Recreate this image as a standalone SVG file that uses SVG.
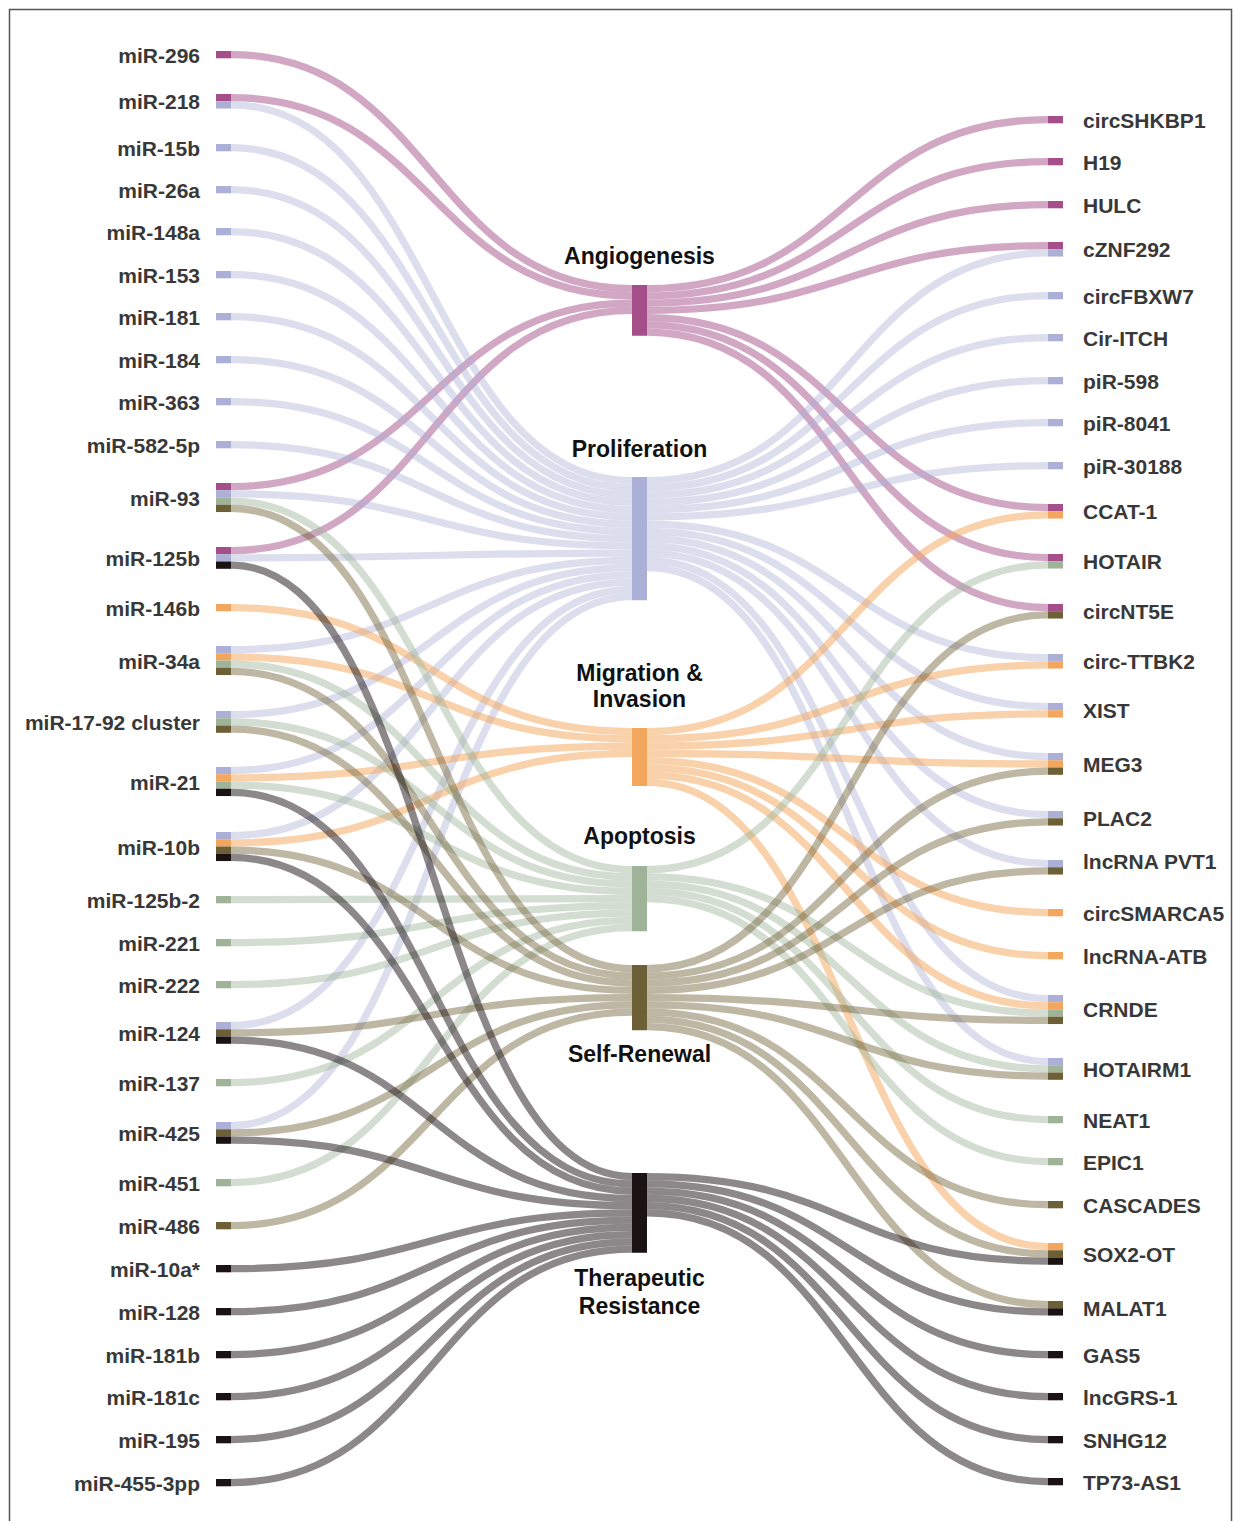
<svg xmlns="http://www.w3.org/2000/svg" width="1234" height="1521" viewBox="0 0 1234 1521">
<style>
.l{fill:none;stroke-width:7.25}
.lA{stroke:#a44f8a;stroke-opacity:.5}
.lP{stroke:#acb0d6;stroke-opacity:.42}
.lM{stroke:#f3a75e;stroke-opacity:.52}
.lAp{stroke:#9eb398;stroke-opacity:.45}
.lS{stroke:#6e6036;stroke-opacity:.45}
.lT{stroke:#1a1213;stroke-opacity:.5}
.fA{fill:#a44f8a}.fP{fill:#acb0d6}.fM{fill:#f3a75e}.fAp{fill:#9eb398}.fS{fill:#6e6036}.fT{fill:#1a1213}
.lb rect,.rb rect{width:15px;height:7.3px}
.lb rect{x:216px}.rb rect{x:1048px}
.lb text{font:bold 21px "Liberation Sans",Arial,sans-serif;fill:#383838;text-anchor:end}
.rb text{font:bold 21px "Liberation Sans",Arial,sans-serif;fill:#383838}
.cn text{font:bold 23px "Liberation Sans",Arial,sans-serif;fill:#111;text-anchor:middle}
</style>
<rect x="9.5" y="9.5" width="1222" height="1540" fill="#fff" stroke="#555" stroke-width="1.5"/>
<g id="links">
<path class="l lA" d="M231 54.6C431.5 54.6 431.5 288.6 632 288.6"/>
<path class="l lA" d="M231 97.6C431.5 97.6 431.5 295.9 632 295.9"/>
<path class="l lA" d="M231 486.6C431.5 486.6 431.5 303.1 632 303.1"/>
<path class="l lA" d="M231 550.6C431.5 550.6 431.5 310.4 632 310.4"/>
<path class="l lP" d="M231 104.9C431.5 104.9 431.5 480.6 632 480.6"/>
<path class="l lP" d="M231 147.6C431.5 147.6 431.5 487.9 632 487.9"/>
<path class="l lP" d="M231 189.6C431.5 189.6 431.5 495.1 632 495.1"/>
<path class="l lP" d="M231 231.6C431.5 231.6 431.5 502.4 632 502.4"/>
<path class="l lP" d="M231 274.6C431.5 274.6 431.5 509.6 632 509.6"/>
<path class="l lP" d="M231 316.6C431.5 316.6 431.5 516.9 632 516.9"/>
<path class="l lP" d="M231 359.6C431.5 359.6 431.5 524.1 632 524.1"/>
<path class="l lP" d="M231 401.6C431.5 401.6 431.5 531.4 632 531.4"/>
<path class="l lP" d="M231 444.6C431.5 444.6 431.5 538.6 632 538.6"/>
<path class="l lP" d="M231 493.9C431.5 493.9 431.5 545.9 632 545.9"/>
<path class="l lP" d="M231 557.9C431.5 557.9 431.5 553.1 632 553.1"/>
<path class="l lP" d="M231 649.6C431.5 649.6 431.5 560.4 632 560.4"/>
<path class="l lP" d="M231 714.6C431.5 714.6 431.5 567.6 632 567.6"/>
<path class="l lP" d="M231 770.6C431.5 770.6 431.5 574.9 632 574.9"/>
<path class="l lP" d="M231 835.6C431.5 835.6 431.5 582.1 632 582.1"/>
<path class="l lP" d="M231 1025.6C431.5 1025.6 431.5 589.4 632 589.4"/>
<path class="l lP" d="M231 1125.6C431.5 1125.6 431.5 596.6 632 596.6"/>
<path class="l lM" d="M231 607.6C431.5 607.6 431.5 731.6 632 731.6"/>
<path class="l lM" d="M231 656.9C431.5 656.9 431.5 738.9 632 738.9"/>
<path class="l lM" d="M231 777.9C431.5 777.9 431.5 746.1 632 746.1"/>
<path class="l lM" d="M231 842.9C431.5 842.9 431.5 753.4 632 753.4"/>
<path class="l lAp" d="M231 501.1C431.5 501.1 431.5 869.6 632 869.6"/>
<path class="l lAp" d="M231 664.1C431.5 664.1 431.5 876.9 632 876.9"/>
<path class="l lAp" d="M231 721.9C431.5 721.9 431.5 884.1 632 884.1"/>
<path class="l lAp" d="M231 785.1C431.5 785.1 431.5 891.4 632 891.4"/>
<path class="l lAp" d="M231 899.6C431.5 899.6 431.5 898.6 632 898.6"/>
<path class="l lAp" d="M231 942.6C431.5 942.6 431.5 905.9 632 905.9"/>
<path class="l lAp" d="M231 984.6C431.5 984.6 431.5 913.1 632 913.1"/>
<path class="l lAp" d="M231 1082.6C431.5 1082.6 431.5 920.4 632 920.4"/>
<path class="l lAp" d="M231 1182.6C431.5 1182.6 431.5 927.6 632 927.6"/>
<path class="l lS" d="M231 508.4C431.5 508.4 431.5 968.6 632 968.6"/>
<path class="l lS" d="M231 671.4C431.5 671.4 431.5 975.9 632 975.9"/>
<path class="l lS" d="M231 729.1C431.5 729.1 431.5 983.1 632 983.1"/>
<path class="l lS" d="M231 850.1C431.5 850.1 431.5 990.4 632 990.4"/>
<path class="l lS" d="M231 1032.9C431.5 1032.9 431.5 997.6 632 997.6"/>
<path class="l lS" d="M231 1132.9C431.5 1132.9 431.5 1004.9 632 1004.9"/>
<path class="l lS" d="M231 1225.6C431.5 1225.6 431.5 1012.1 632 1012.1"/>
<path class="l lT" d="M231 565.1C431.5 565.1 431.5 1176.6 632 1176.6"/>
<path class="l lT" d="M231 792.4C431.5 792.4 431.5 1183.9 632 1183.9"/>
<path class="l lT" d="M231 857.4C431.5 857.4 431.5 1191.1 632 1191.1"/>
<path class="l lT" d="M231 1040.1C431.5 1040.1 431.5 1198.4 632 1198.4"/>
<path class="l lT" d="M231 1140.1C431.5 1140.1 431.5 1205.6 632 1205.6"/>
<path class="l lT" d="M231 1268.6C431.5 1268.6 431.5 1212.9 632 1212.9"/>
<path class="l lT" d="M231 1311.6C431.5 1311.6 431.5 1220.1 632 1220.1"/>
<path class="l lT" d="M231 1354.6C431.5 1354.6 431.5 1227.4 632 1227.4"/>
<path class="l lT" d="M231 1396.6C431.5 1396.6 431.5 1234.6 632 1234.6"/>
<path class="l lT" d="M231 1439.6C431.5 1439.6 431.5 1241.9 632 1241.9"/>
<path class="l lT" d="M231 1482.6C431.5 1482.6 431.5 1249.1 632 1249.1"/>
<path class="l lA" d="M647 288.6C847.5 288.6 847.5 119.6 1048 119.6"/>
<path class="l lA" d="M647 295.9C847.5 295.9 847.5 161.6 1048 161.6"/>
<path class="l lA" d="M647 303.1C847.5 303.1 847.5 204.6 1048 204.6"/>
<path class="l lA" d="M647 310.4C847.5 310.4 847.5 245.6 1048 245.6"/>
<path class="l lA" d="M647 317.6C847.5 317.6 847.5 507.6 1048 507.6"/>
<path class="l lA" d="M647 324.9C847.5 324.9 847.5 557.6 1048 557.6"/>
<path class="l lA" d="M647 332.1C847.5 332.1 847.5 607.6 1048 607.6"/>
<path class="l lP" d="M647 480.6C847.5 480.6 847.5 252.9 1048 252.9"/>
<path class="l lP" d="M647 487.9C847.5 487.9 847.5 295.6 1048 295.6"/>
<path class="l lP" d="M647 495.1C847.5 495.1 847.5 337.6 1048 337.6"/>
<path class="l lP" d="M647 502.4C847.5 502.4 847.5 380.6 1048 380.6"/>
<path class="l lP" d="M647 509.6C847.5 509.6 847.5 422.6 1048 422.6"/>
<path class="l lP" d="M647 516.9C847.5 516.9 847.5 465.6 1048 465.6"/>
<path class="l lP" d="M647 524.1C847.5 524.1 847.5 657.6 1048 657.6"/>
<path class="l lP" d="M647 531.4C847.5 531.4 847.5 706.6 1048 706.6"/>
<path class="l lP" d="M647 538.6C847.5 538.6 847.5 756.6 1048 756.6"/>
<path class="l lP" d="M647 545.9C847.5 545.9 847.5 814.6 1048 814.6"/>
<path class="l lP" d="M647 553.1C847.5 553.1 847.5 863.6 1048 863.6"/>
<path class="l lP" d="M647 560.4C847.5 560.4 847.5 998.6 1048 998.6"/>
<path class="l lP" d="M647 567.6C847.5 567.6 847.5 1061.6 1048 1061.6"/>
<path class="l lM" d="M647 731.6C847.5 731.6 847.5 514.9 1048 514.9"/>
<path class="l lM" d="M647 738.9C847.5 738.9 847.5 664.9 1048 664.9"/>
<path class="l lM" d="M647 746.1C847.5 746.1 847.5 713.9 1048 713.9"/>
<path class="l lM" d="M647 753.4C847.5 753.4 847.5 763.9 1048 763.9"/>
<path class="l lM" d="M647 760.6C847.5 760.6 847.5 912.6 1048 912.6"/>
<path class="l lM" d="M647 767.9C847.5 767.9 847.5 955.6 1048 955.6"/>
<path class="l lM" d="M647 775.1C847.5 775.1 847.5 1005.9 1048 1005.9"/>
<path class="l lM" d="M647 782.4C847.5 782.4 847.5 1246.6 1048 1246.6"/>
<path class="l lAp" d="M647 869.6C847.5 869.6 847.5 564.9 1048 564.9"/>
<path class="l lAp" d="M647 876.9C847.5 876.9 847.5 1013.1 1048 1013.1"/>
<path class="l lAp" d="M647 884.1C847.5 884.1 847.5 1068.9 1048 1068.9"/>
<path class="l lAp" d="M647 891.4C847.5 891.4 847.5 1119.6 1048 1119.6"/>
<path class="l lAp" d="M647 898.6C847.5 898.6 847.5 1161.6 1048 1161.6"/>
<path class="l lS" d="M647 968.6C847.5 968.6 847.5 614.9 1048 614.9"/>
<path class="l lS" d="M647 975.9C847.5 975.9 847.5 771.1 1048 771.1"/>
<path class="l lS" d="M647 983.1C847.5 983.1 847.5 821.9 1048 821.9"/>
<path class="l lS" d="M647 990.4C847.5 990.4 847.5 870.9 1048 870.9"/>
<path class="l lS" d="M647 997.6C847.5 997.6 847.5 1020.4 1048 1020.4"/>
<path class="l lS" d="M647 1004.9C847.5 1004.9 847.5 1076.1 1048 1076.1"/>
<path class="l lS" d="M647 1012.1C847.5 1012.1 847.5 1204.6 1048 1204.6"/>
<path class="l lS" d="M647 1019.4C847.5 1019.4 847.5 1253.9 1048 1253.9"/>
<path class="l lS" d="M647 1026.6C847.5 1026.6 847.5 1304.6 1048 1304.6"/>
<path class="l lT" d="M647 1176.6C847.5 1176.6 847.5 1261.1 1048 1261.1"/>
<path class="l lT" d="M647 1183.9C847.5 1183.9 847.5 1311.9 1048 1311.9"/>
<path class="l lT" d="M647 1191.1C847.5 1191.1 847.5 1354.6 1048 1354.6"/>
<path class="l lT" d="M647 1198.4C847.5 1198.4 847.5 1396.6 1048 1396.6"/>
<path class="l lT" d="M647 1205.6C847.5 1205.6 847.5 1439.6 1048 1439.6"/>
<path class="l lT" d="M647 1212.9C847.5 1212.9 847.5 1481.6 1048 1481.6"/>
</g>
<g class="cn">
<g id="angiogenesis"><rect class="fA" x="632" y="285" width="15" height="50.75"/><text x="639.5" y="264">Angiogenesis</text></g>
<g id="proliferation"><rect class="fP" x="632" y="477" width="15" height="123.25"/><text x="639.5" y="456.5">Proliferation</text></g>
<g id="migration"><rect class="fM" x="632" y="728" width="15" height="58"/><text x="639.5" y="681">Migration &amp;</text><text x="639.5" y="707">Invasion</text></g>
<g id="apoptosis"><rect class="fAp" x="632" y="866" width="15" height="65.25"/><text x="639.5" y="844">Apoptosis</text></g>
<g id="self-renewal"><rect class="fS" x="632" y="965" width="15" height="65.25"/><text x="639.5" y="1062">Self-Renewal</text></g>
<g id="therapeutic-resistance"><rect class="fT" x="632" y="1173" width="15" height="79.75"/><text x="639.5" y="1286">Therapeutic</text><text x="639.5" y="1314">Resistance</text></g>
</g>
<g class="lb">
<g id="miR-296"><rect class="fA" y="51"/><text x="200" y="62.6">miR-296</text></g>
<g id="miR-218"><rect class="fA" y="94"/><rect class="fP" y="101.25"/><text x="200" y="109.3">miR-218</text></g>
<g id="miR-15b"><rect class="fP" y="144"/><text x="200" y="155.6">miR-15b</text></g>
<g id="miR-26a"><rect class="fP" y="186"/><text x="200" y="197.6">miR-26a</text></g>
<g id="miR-148a"><rect class="fP" y="228"/><text x="200" y="239.6">miR-148a</text></g>
<g id="miR-153"><rect class="fP" y="271"/><text x="200" y="282.6">miR-153</text></g>
<g id="miR-181"><rect class="fP" y="313"/><text x="200" y="324.6">miR-181</text></g>
<g id="miR-184"><rect class="fP" y="356"/><text x="200" y="367.6">miR-184</text></g>
<g id="miR-363"><rect class="fP" y="398"/><text x="200" y="409.6">miR-363</text></g>
<g id="miR-582-5p"><rect class="fP" y="441"/><text x="200" y="452.6">miR-582-5p</text></g>
<g id="miR-93"><rect class="fA" y="483"/><rect class="fP" y="490.25"/><rect class="fAp" y="497.5"/><rect class="fS" y="504.75"/><text x="200" y="505.5">miR-93</text></g>
<g id="miR-125b"><rect class="fA" y="547"/><rect class="fP" y="554.25"/><rect class="fT" y="561.5"/><text x="200" y="565.9">miR-125b</text></g>
<g id="miR-146b"><rect class="fM" y="604"/><text x="200" y="615.6">miR-146b</text></g>
<g id="miR-34a"><rect class="fP" y="646"/><rect class="fM" y="653.25"/><rect class="fAp" y="660.5"/><rect class="fS" y="667.75"/><text x="200" y="668.5">miR-34a</text></g>
<g id="miR-17-92"><rect class="fP" y="711"/><rect class="fAp" y="718.25"/><rect class="fS" y="725.5"/><text x="200" y="729.9">miR-17-92 cluster</text></g>
<g id="miR-21"><rect class="fP" y="767"/><rect class="fM" y="774.25"/><rect class="fAp" y="781.5"/><rect class="fT" y="788.75"/><text x="200" y="789.5">miR-21</text></g>
<g id="miR-10b"><rect class="fP" y="832"/><rect class="fM" y="839.25"/><rect class="fS" y="846.5"/><rect class="fT" y="853.75"/><text x="200" y="854.5">miR-10b</text></g>
<g id="miR-125b-2"><rect class="fAp" y="896"/><text x="200" y="907.6">miR-125b-2</text></g>
<g id="miR-221"><rect class="fAp" y="939"/><text x="200" y="950.6">miR-221</text></g>
<g id="miR-222"><rect class="fAp" y="981"/><text x="200" y="992.6">miR-222</text></g>
<g id="miR-124"><rect class="fP" y="1022"/><rect class="fS" y="1029.25"/><rect class="fT" y="1036.5"/><text x="200" y="1040.9">miR-124</text></g>
<g id="miR-137"><rect class="fAp" y="1079"/><text x="200" y="1090.6">miR-137</text></g>
<g id="miR-425"><rect class="fP" y="1122"/><rect class="fS" y="1129.25"/><rect class="fT" y="1136.5"/><text x="200" y="1140.9">miR-425</text></g>
<g id="miR-451"><rect class="fAp" y="1179"/><text x="200" y="1190.6">miR-451</text></g>
<g id="miR-486"><rect class="fS" y="1222"/><text x="200" y="1233.6">miR-486</text></g>
<g id="miR-10a"><rect class="fT" y="1265"/><text x="200" y="1276.6">miR-10a*</text></g>
<g id="miR-128"><rect class="fT" y="1308"/><text x="200" y="1319.6">miR-128</text></g>
<g id="miR-181b"><rect class="fT" y="1351"/><text x="200" y="1362.6">miR-181b</text></g>
<g id="miR-181c"><rect class="fT" y="1393"/><text x="200" y="1404.6">miR-181c</text></g>
<g id="miR-195"><rect class="fT" y="1436"/><text x="200" y="1447.6">miR-195</text></g>
<g id="miR-455-3pp"><rect class="fT" y="1479"/><text x="200" y="1490.6">miR-455-3pp</text></g>
</g>
<g class="rb">
<g id="circSHKBP1"><rect class="fA" y="116"/><text x="1083" y="127.6">circSHKBP1</text></g>
<g id="H19"><rect class="fA" y="158"/><text x="1083" y="169.6">H19</text></g>
<g id="HULC"><rect class="fA" y="201"/><text x="1083" y="212.6">HULC</text></g>
<g id="cZNF292"><rect class="fA" y="242"/><rect class="fP" y="249.25"/><text x="1083" y="257.2">cZNF292</text></g>
<g id="circFBXW7"><rect class="fP" y="292"/><text x="1083" y="303.6">circFBXW7</text></g>
<g id="Cir-ITCH"><rect class="fP" y="334"/><text x="1083" y="345.6">Cir-ITCH</text></g>
<g id="piR-598"><rect class="fP" y="377"/><text x="1083" y="388.6">piR-598</text></g>
<g id="piR-8041"><rect class="fP" y="419"/><text x="1083" y="430.6">piR-8041</text></g>
<g id="piR-30188"><rect class="fP" y="462"/><text x="1083" y="473.6">piR-30188</text></g>
<g id="CCAT-1"><rect class="fA" y="504"/><rect class="fM" y="511.25"/><text x="1083" y="519.2">CCAT-1</text></g>
<g id="HOTAIR"><rect class="fA" y="554"/><rect class="fAp" y="561.25"/><text x="1083" y="569.2">HOTAIR</text></g>
<g id="circNT5E"><rect class="fA" y="604"/><rect class="fS" y="611.25"/><text x="1083" y="619.2">circNT5E</text></g>
<g id="circ-TTBK2"><rect class="fP" y="654"/><rect class="fM" y="661.25"/><text x="1083" y="669.2">circ-TTBK2</text></g>
<g id="XIST"><rect class="fP" y="703"/><rect class="fM" y="710.25"/><text x="1083" y="718.2">XIST</text></g>
<g id="MEG3"><rect class="fP" y="753"/><rect class="fM" y="760.25"/><rect class="fS" y="767.5"/><text x="1083" y="772">MEG3</text></g>
<g id="PLAC2"><rect class="fP" y="811"/><rect class="fS" y="818.25"/><text x="1083" y="826.2">PLAC2</text></g>
<g id="lncRNA-PVT1"><rect class="fP" y="860"/><rect class="fS" y="867.25"/><text x="1083" y="868.5">lncRNA PVT1</text></g>
<g id="circSMARCA5"><rect class="fM" y="909"/><text x="1083" y="920.6">circSMARCA5</text></g>
<g id="lncRNA-ATB"><rect class="fM" y="952"/><text x="1083" y="963.6">lncRNA-ATB</text></g>
<g id="CRNDE"><rect class="fP" y="995"/><rect class="fM" y="1002.25"/><rect class="fAp" y="1009.5"/><rect class="fS" y="1016.75"/><text x="1083" y="1017">CRNDE</text></g>
<g id="HOTAIRM1"><rect class="fP" y="1058"/><rect class="fAp" y="1065.25"/><rect class="fS" y="1072.5"/><text x="1083" y="1076.8">HOTAIRM1</text></g>
<g id="NEAT1"><rect class="fAp" y="1116"/><text x="1083" y="1127.6">NEAT1</text></g>
<g id="EPIC1"><rect class="fAp" y="1158"/><text x="1083" y="1169.6">EPIC1</text></g>
<g id="CASCADES"><rect class="fS" y="1201"/><text x="1083" y="1212.6">CASCADES</text></g>
<g id="SOX2-OT"><rect class="fM" y="1243"/><rect class="fS" y="1250.25"/><rect class="fT" y="1257.5"/><text x="1083" y="1262">SOX2-OT</text></g>
<g id="MALAT1"><rect class="fS" y="1301"/><rect class="fT" y="1308.25"/><text x="1083" y="1316.2">MALAT1</text></g>
<g id="GAS5"><rect class="fT" y="1351"/><text x="1083" y="1362.6">GAS5</text></g>
<g id="lncGRS-1"><rect class="fT" y="1393"/><text x="1083" y="1404.6">lncGRS-1</text></g>
<g id="SNHG12"><rect class="fT" y="1436"/><text x="1083" y="1447.6">SNHG12</text></g>
<g id="TP73-AS1"><rect class="fT" y="1478"/><text x="1083" y="1489.6">TP73-AS1</text></g>
</g>
</svg>
